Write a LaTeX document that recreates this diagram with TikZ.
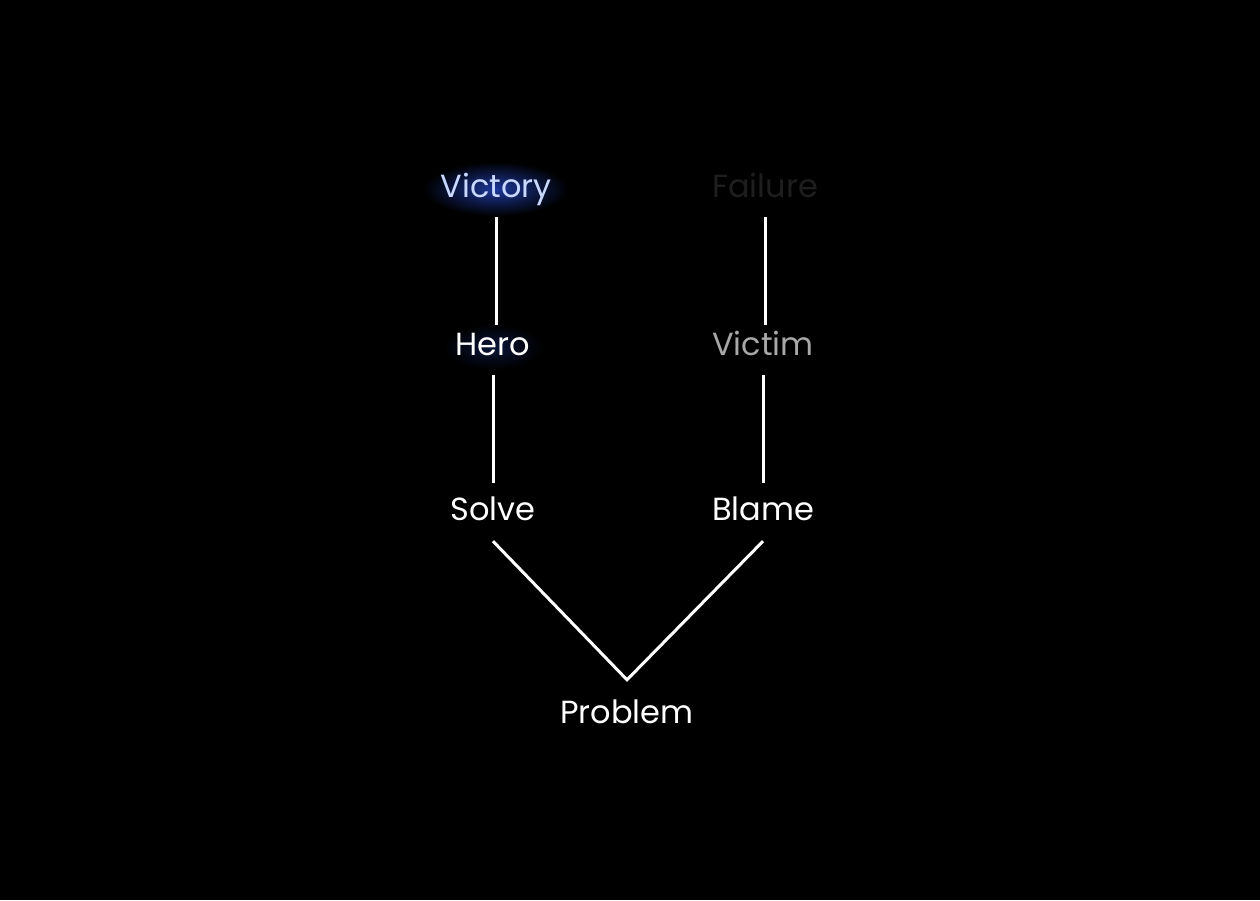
\documentclass[tikz,border=0pt]{standalone}
\usepackage{fontspec}
\setmainfont{Poppins}
\usetikzlibrary{positioning}
\pgfdeclarelayer{background}
\pgfsetlayers{background,main}

\definecolor{glowblue}{HTML}{2F5BFF}
\definecolor{victoryfg}{HTML}{C9D8FF}
\definecolor{failfg}{HTML}{1E1E1E}
\definecolor{victimfg}{HTML}{A8A8A8}

\begin{document}
\begin{tikzpicture}[
  x=1pt,y=-1pt,
  word/.style={inner sep=0pt,text height=24pt,text depth=7pt,
               font=\fontsize{32}{36}\selectfont,text=white},
  link/.style={draw=white,line width=3pt},
  glow/.style={inner color=glowblue!#1!black,outer color=black}
]
  % the paths
  \node[word,text=victoryfg] (victory) at (496,189) {Victory};
  \node[word,text=failfg]    (failure) at (765,189) {Failure};
  \node[word]                (hero)    at (493,347) {Hero};
  \node[word,text=victimfg]  (victim)  at (763,347) {Victim};
  \node[word]                (solve)   at (493,512) {Solve};
  \node[word]                (blame)   at (763,512) {Blame};
  \node[word]                (problem) at (627,715) {Problem};

  % glow behind the winning side
  \begin{pgfonlayer}{background}
    \fill[black] (0,0) rectangle (1260,900);
    \shade[glow=60] (victory) ellipse [x radius=72,y radius=27];
    \shade[glow=22] (hero) ellipse [x radius=50,y radius=23];
  \end{pgfonlayer}

  \draw[link,shorten <=12.5pt,shorten >=6.5pt]
    (victory.south) -- (victory.south |- hero.north);
  \draw[link,shorten <=12.5pt,shorten >=6.5pt]
    (failure.south) -- (failure.south |- victim.north);
  \draw[link,shorten <=12.5pt,shorten >=13.5pt]
    (hero.south) -- (hero.south |- solve.north);
  \draw[link,shorten <=12.5pt,shorten >=13.5pt]
    (victim.south) -- (victim.south |- blame.north);
  \draw[link,line join=miter]
    ([yshift=-13.5pt]solve.south) -- ([yshift=19.5pt]problem.north)
    -- ([yshift=-13.5pt]blame.south);
\end{tikzpicture}
\end{document}
